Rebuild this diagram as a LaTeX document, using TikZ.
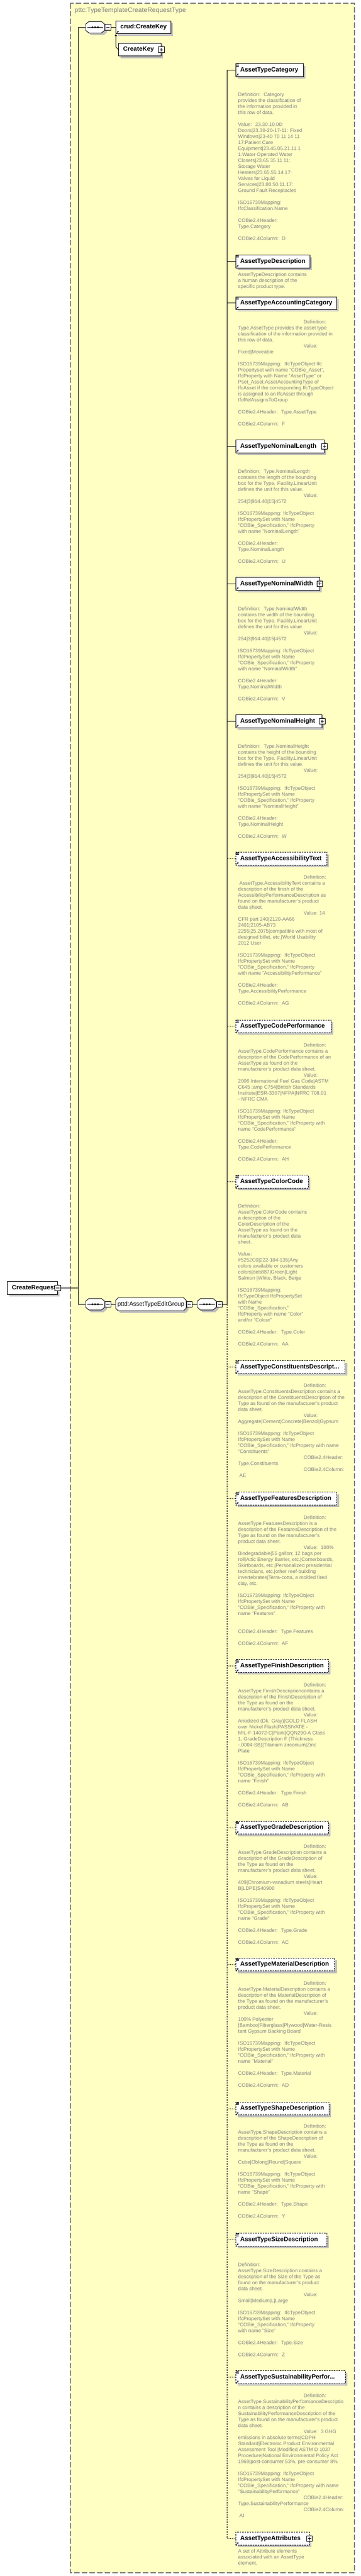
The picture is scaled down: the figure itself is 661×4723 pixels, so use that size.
\documentclass[tikz,border=0pt]{standalone}
\usepackage{fontspec}
\setmainfont{Liberation Sans}
\usetikzlibrary{shadows,arrows.meta}
\definecolor{bgyellow}{RGB}{255,255,196}
\definecolor{bordergray}{RGB}{128,128,128}
\definecolor{txtgray}{RGB}{128,128,128}
\definecolor{shadowgray}{RGB}{192,192,192}
\newcount\tcnt
\newcommand\tstart[1]{\xdef\tyv{#1}}
\newcommand\tadv{\pgfmathsetmacro\tmpy{\tyv+11}\xdef\tyv{\tmpy}}
\newcommand\tline[1]{\global\advance\tcnt by 1\relax\node[gtext] (t\the\tcnt) at (436.5,\tyv) {#1};\tadv}
\newcommand\ttab[1]{\global\advance\tcnt by 1\relax\node[gtext] (t\the\tcnt) at (556.7,\tyv) {#1};\tadv}
\newcommand\tskip{\tadv}
\newcommand\elem[6]{\pgfmathsetmacro\elw{#5-#3}\node[elbox,#6,minimum width=\elw pt,text width=\elw pt] (#1) at (#3,#4) {\mbox{\hspace*{8.5pt}#2}};}
\newcommand\docicon[1]{\draw[line width=0.7pt] ([xshift=1.6pt,yshift=-1.3pt]#1.north west) -- ++(5,0) ([xshift=1.6pt,yshift=-3pt]#1.north west) -- ++(5,0) ([xshift=1.6pt,yshift=-4.7pt]#1.north west) -- ++(5,0);}
\newcommand\reficon[1]{\draw[line width=0.8pt,-{Triangle[length=2.4pt,width=2.8pt]}] ([xshift=1.7pt,yshift=1.5pt]#1.south west) -- ++(4,-4);}
\newcommand\plusicon[1]{\node[pmbox] (#1p) at (#1.east) {};\draw[line width=0.9pt] ([xshift=-3pt]#1p.center) -- ([xshift=3pt]#1p.center) ([yshift=-3pt]#1p.center) -- ([yshift=3pt]#1p.center);}
\newcommand\minusicon[1]{\draw[line width=0.9pt] ([xshift=-3pt]#1.center) -- ([xshift=3pt]#1.center);}
\newcommand\seqc[3]{%
 \node[comp] (#1) at (#2+17.5,#3) {};
 \fill[shadowgray] (#2+10,#3-6.5) -- (#2+33,#3-6.5) -- (#2+39,#3-1.5) -- (#2+39,#3+9.5) -- (#2+33,#3+14.5) -- (#2+10,#3+14.5) -- (#2+4,#3+9.5) -- (#2+4,#3-1.5) -- cycle;
 \draw[fill=white,line width=0.9pt] (#2+6,#3-10.5) -- (#2+29,#3-10.5) -- (#2+35,#3-5.5) -- (#2+35,#3+5.5) -- (#2+29,#3+10.5) -- (#2+6,#3+10.5) -- (#2,#3+5.5) -- (#2,#3-5.5) -- cycle;
 \draw[line width=0.9pt] (#2+3,#3) -- (#2+32,#3);
 \fill (#2+11,#3-1.4) rectangle ++(2.8,2.8) (#2+16.1,#3-1.4) rectangle ++(2.8,2.8) (#2+21.2,#3-1.4) rectangle ++(2.8,2.8);
 \node[pmbox,anchor=west] (#1m) at (#1.east) {};
 \minusicon{#1m}}
\begin{document}
\begin{tikzpicture}[x=1pt,y=-1pt,
 elbox/.style={draw=black, line width=0.9pt, fill=white, inner xsep=0pt, inner ysep=0pt, minimum height=23.5pt, align=left, font=\fontsize{11.4}{13}\selectfont\bfseries, anchor=west, drop shadow={shadow xshift=4pt, shadow yshift=-4pt, fill=shadowgray, opacity=1}},
 optel/.style={dash pattern=on 2.5pt off 2pt},
 conn/.style={draw=black, line width=0.9pt},
 optconn/.style={draw=black, line width=0.9pt, dash pattern=on 2.5pt off 2pt},
 gtext/.style={anchor=west, inner sep=0pt, text height=6.6pt, text depth=1.9pt, font=\fontsize{9.2}{11}\selectfont, text=txtgray},
 pmbox/.style={draw=black, fill=white, line width=0.9pt, minimum size=10.5pt, inner sep=0pt},
 comp/.style={inner sep=0pt, minimum width=35pt, minimum height=21pt}]
\useasboundingbox (0,0) rectangle (661,4723);
\fill[white] (0,0) rectangle (661,4723);
\draw[bordergray, line width=1.2pt, dash pattern=on 10pt off 4pt, fill=bgyellow] (129,6) rectangle (650,4717);
\node[anchor=west, inner sep=0pt, font=\fontsize{12}{14}\selectfont, text=txtgray] (title) at (136.7,19.3) {pttc:TypeTemplateCreateRequestType};

% root element
\elem{root}{CreateRequest}{13}{2361.5}{105}{}
\node[pmbox] (rootm) at (root.east) {};
\minusicon{rootm}

% main bracket
\coordinate (vtop) at (143,50);
\coordinate (vbot) at (143,2391.3);
\coordinate (vroot) at (143,2361.5);
\draw[conn] (vtop) -- (vbot);
\draw[conn] (rootm.east) -- (vroot);

% top sequence
\seqc{s1}{157}{50}
\draw[conn] (vtop) -- (s1.west);
\elem{ck}{crud:CreateKey}{212}{50}{313}{}
\reficon{ck}
\draw[conn] (s1m.east) -- (ck.west);
\elem{ckt}{CreateKey}{217}{91}{295}{}
\plusicon{ckt}
\coordinate (ckbend) at (212.5,86);
\draw[conn,-{Triangle[length=4pt,width=4pt]}] (ckt.west) -- (ckbend) -- (ckbend |- ck.south);

% group row
\seqc{s2}{157}{2391.3}
\draw[conn] (vbot) -- (s2.west);
\fill[shadowgray] (221,2383.2) -- (340.5,2383.2) -- (345.5,2388.2) -- (345.5,2402.4) -- (340.5,2407.4) -- (221,2407.4) -- (216,2402.4) -- (216,2388.2) -- cycle;
\draw[fill=white,line width=0.9pt] (217,2379.2) -- (336.5,2379.2) -- (341.5,2384.2) -- (341.5,2398.4) -- (336.5,2403.4) -- (217,2403.4) -- (212,2398.4) -- (212,2384.2) -- cycle;
\node[inner sep=0pt, minimum width=129.5pt, minimum height=24.2pt, font=\fontsize{11}{13}\selectfont] (grp) at (276.75,2391.3) {pttd:AssetTypeEditGroup};
\node[pmbox,anchor=west] (grpm) at (grp.east) {};
\minusicon{grpm}
\draw[conn] (s2m.east) -- (grp.west);
\seqc{s3}{361.7}{2391.3}
\draw[conn] (grpm.east) -- (s3.west);
\coordinate (vg) at (416.5,2391.3);
\coordinate (vt) at (416.5,128.5);
\coordinate (vb) at (416.5,4654.5);
\draw[conn] (s3m.east) -- (vg);
\draw[conn] (vt) -- (vg);
\draw[optconn] (vg) -- (vb);

% elements
\elem{cat}{AssetTypeCategory}{431.7}{128.5}{556}{}
\elem{desc}{AssetTypeDescription}{431.7}{479.3}{568}{}
\elem{acc}{AssetTypeAccountingCategory}{431.7}{555.7}{617}{}
\elem{nlen}{AssetTypeNominalLength}{431.7}{818.3}{594}{}
\elem{nwid}{AssetTypeNominalWidth}{431.7}{1070.3}{585.7}{}
\elem{nhei}{AssetTypeNominalHeight}{431.7}{1322.5}{590}{}
\elem{acct}{AssetTypeAccessibilityText}{431.7}{1574.3}{599}{optel}
\elem{code}{AssetTypeCodePerformance}{431.7}{1881.7}{607}{optel}
\elem{color}{AssetTypeColorCode}{431.7}{2166.6}{565}{optel}
\elem{const}{AssetTypeConstituentsDescript...}{431.7}{2506.5}{632.4}{optel}
\elem{feat}{AssetTypeFeaturesDescription}{431.7}{2747.4}{617.3}{optel}
\elem{fin}{AssetTypeFinishDescription}{431.7}{3054.5}{601.7}{optel}
\elem{grade}{AssetTypeGradeDescription}{431.7}{3351}{601.7}{optel}
\elem{mat}{AssetTypeMaterialDescription}{431.7}{3601.8}{613.3}{optel}
\elem{shape}{AssetTypeShapeDescription}{431.7}{3866}{602.7}{optel}
\elem{size}{AssetTypeSizeDescription}{431.7}{4106.6}{599}{optel}
\elem{sust}{AssetTypeSustainabilityPerfor...}{431.7}{4358.4}{632.7}{optel}
\elem{attr}{AssetTypeAttributes}{431.7}{4654.5}{566.7}{optel}
\foreach \n in {cat,desc,acc,nlen,nwid,nhei}{\draw[conn] (\n.west -| vg) -- (\n.west);}
\foreach \n in {acct,code,color,const,feat,fin,grade,mat,shape,size,sust,attr}{\draw[optconn] (\n.west -| vg) -- (\n.west);}
\foreach \n in {cat,desc,acc,acct,code,color,const,feat,fin,grade,mat,shape,size,sust}{\docicon{\n}}
\foreach \n in {cat,desc,acc,nlen,nwid,nhei,acct,code,color,const,feat,fin,grade,mat,shape,size,sust,attr}{\reficon{\n}}
\plusicon{nlen}
\plusicon{nwid}
\plusicon{nhei}
\plusicon{attr}

% ---- texts
\tstart{174.3}
\tline{Definition:~ Category}
\tline{provides the classification of}
\tline{the information provided in}
\tline{this row of data.}
\tskip
\tline{Value:~ 23.30.10.00:}
\tline{Doors|23.30-20-17-11: Fixed}
\tline{Windows|23-40 70 11 14 11}
\tline{17:Patient Care}
\tline{Equipment|23.45.05.21.11.1}
\tline{1:Water Operated Water}
\tline{Closets|23.65 35 11 11:}
\tline{Storage Water}
\tline{Heaters|23.65.55.14.17:}
\tline{Valves for Liquid}
\tline{Services|23.80.50.11.17:}
\tline{Ground Fault Receptacles}
\tskip
\tline{ISO16739Mapping:}
\tline{IfcClassification.Name}
\tskip
\tline{COBie2.4Header:}
\tline{Type.Category}
\tskip
\tline{COBie2.4Column:~ D}

\tstart{503.7}
\tline{AssetTypeDescription contains}
\tline{a human description of the}
\tline{specific product type.}

\tstart{591}
\ttab{Definition:}
\tline{Type.AssetType provides the asset type}
\tline{classification of the information provided in}
\tline{this row of data.}
\ttab{Value:}
\tline{Fixed|Moveable}
\tskip
\tline{ISO16739Mapping:~ IfcTypeObject Ifc}
\tline{Propertyset with name "COBie\_Asset",}
\tline{IfcProperty with Name "AssetType" or}
\tline{Pset\_Asset.AssetAccountingType of}
\tline{IfcAsset if the corresponding IfcTypeObject}
\tline{is assigned to an IfcAsset through}
\tline{IfcRelAssignsToGroup}
\tskip
\tline{COBie2.4Header:~ Type.AssetType}
\tskip
\tline{COBie2.4Column:~ F}

\tstart{865}
\tline{Definition:~ Type.NominalLength}
\tline{contains the length of the bounding}
\tline{box for the Type. Facility.LinearUnit}
\tline{defines the unit for this value.}
\ttab{Value:}
\tline{254|3|914.40|15|4572}
\tskip
\tline{ISO16739Mapping: IfcTypeObject}
\tline{IfcPropertySet with Name}
\tline{"COBie\_Specification," IfcProperty}
\tline{with name "NominalLength"}
\tskip
\tline{COBie2.4Header:}
\tline{Type.NominalLength}
\tskip
\tline{COBie2.4Column:~ U}

\tstart{1116.7}
\tline{Definition:~ Type.NominalWidth}
\tline{contains the width of the bounding}
\tline{box for the Type. Facility.LinearUnit}
\tline{defines the unit for this value.}
\ttab{Value:}
\tline{254|3|914.40|15|4572}
\tskip
\tline{ISO16739Mapping: IfcTypeObject}
\tline{IfcPropertySet with Name}
\tline{"COBie\_Specification," IfcProperty}
\tline{with name "NominalWidth"}
\tskip
\tline{COBie2.4Header:}
\tline{Type.NominalWidth}
\tskip
\tline{COBie2.4Column:~ V}

\tstart{1368.7}
\tline{Definition:~ Type.NominalHeight}
\tline{contains the height of the bounding}
\tline{box for the Type. Facility.LinearUnit}
\tline{defines the unit for this value.}
\ttab{Value:}
\tline{254|3|914.40|15|4572}
\tskip
\tline{ISO16739Mapping:~ IfcTypeObject}
\tline{IfcPropertySet with Name}
\tline{"COBie\_Specification," IfcProperty}
\tline{with name "NominalHeight"}
\tskip
\tline{COBie2.4Header:}
\tline{Type.NominalHeight}
\tskip
\tline{COBie2.4Column:~ W}

\tstart{1609.3}
\ttab{Definition:}
\tline{\hspace*{2.5pt}AssetType.AccessibilityText contains a}
\tline{description of the finish of the}
\tline{AccessibilityPerformanceDescription as}
\tline{found on the manufacturer's product}
\tline{data sheet.}
\ttab{Value: 14}
\tline{CFR part 240|2120-AA66}
\tline{2401|2105-AB73}
\tline{2255|25.2075|compatible with most of}
\tline{designed billet, etc.|World Usability}
\tline{2012 User}
\tskip
\tline{ISO16739Mapping:~ IfcTypeObject}
\tline{IfcPropertySet with Name}
\tline{"COBie\_Specification," IfcProperty}
\tline{with name "AccessibilityPerformance"}
\tskip
\tline{COBie2.4Header:}
\tline{Type.AccessibilityPerformance}
\tskip
\tline{COBie2.4Column:~ AG}

\tstart{1916.7}
\ttab{Definition:}
\tline{AssetType.CodePerformance contains a}
\tline{description of the CodePerformance of an}
\tline{AssetType as found on the}
\tline{manufacturer's product data sheet.}
\ttab{Value:}
\tline{2006 International Fuel Gas Code|ASTM}
\tline{C645 ;amp C754|British Standards}
\tline{Institute|ESR-3307|NFPA|NFRC 708.01}
\tline{- NFRC CMA}
\tskip
\tline{ISO16739Mapping: IfcTypeObject}
\tline{IfcPropertySet with Name}
\tline{"COBie\_Specification," IfcProperty with}
\tline{name "CodePerformance"}
\tskip
\tline{COBie2.4Header:}
\tline{Type.CodePerformance}
\tskip
\tline{COBie2.4Column:~ AH}

\tstart{2212.2}
\tline{Definition:}
\tline{AssetType.ColorCode contains}
\tline{a description of the}
\tline{ColorDescription of the}
\tline{AssetType as found on the}
\tline{manufacturer's product data}
\tline{sheet.}
\tskip
\tline{Value:}
\tline{\#5252C0|222-184-135|Any}
\tline{colors available or customers}
\tline{colors|deb887|Green|Light}
\tline{Salmon |White, Black, Beige}
\tskip
\tline{ISO16739Mapping:}
\tline{IfcTypeObject IfcPropertySet}
\tline{with Name}
\tline{"COBie\_Specification,"}
\tline{IfcProperty with name "Color"}
\tline{and/or "Colour"}
\tskip
\tline{COBie2.4Header:~ Type.Color}
\tskip
\tline{COBie2.4Column:~ AA}

\tstart{2541.4}
\ttab{Definition:}
\tline{AssetType.ConstituentsDescription contains a}
\tline{description of the ConstituentsDescription of the}
\tline{Type as found on the manufacturer's product}
\tline{data sheet.}
\ttab{Value:}
\tline{Aggregate|Cement|Concrete|Benzol|Gypsum}
\tskip
\tline{ISO16739Mapping: IfcTypeObject}
\tline{IfcPropertySet with Name}
\tline{"COBie\_Specification," IfcProperty with name}
\tline{"Constituents"}
\ttab{COBie2.4Header:}
\tline{Type.Constituents}
\ttab{COBie2.4Column:}
\tline{\hspace*{2.5pt}AE}

\tstart{2782.9}
\ttab{Definition:}
\tline{AssetType.FeaturesDescription is a}
\tline{description of the FeaturesDescription of the}
\tline{Type as found on the manufacturer's}
\tline{product data sheet.}
\ttab{Value:~ 100\%}
\tline{Biodegradable|55 gallon; 12 bags per}
\tline{roll|Attic Energy Barrier, etc.|Cornerboards,}
\tline{Skirtboards, etc.|Personalized presidential}
\tline{technicians, etc.|other reef-building}
\tline{invertebrates|Terra-cotta, a molded fired}
\tline{clay, etc.}
\tskip
\tline{ISO16739Mapping: IfcTypeObject}
\tline{IfcPropertySet with Name}
\tline{"COBie\_Specification," IfcProperty with}
\tline{name "Features"}
\tskip
\tskip
\tline{COBie2.4Header:~ Type.Features}
\tskip
\tline{COBie2.4Column:~ AF}

\tstart{3089.9}
\ttab{Definition:}
\tline{AssetType.FinishDescriptioncontains a}
\tline{description of the FinishDescription of}
\tline{the Type as found on the}
\tline{manufacturer's product data sheet.}
\ttab{Value:}
\tline{Anodized (Dk. Gray)|GOLD FLASH}
\tline{over Nickel Flash|PASSIVATE -}
\tline{MIL-F-14072-C|Paint|QQN290-A Class}
\tline{1, GradeDescription F (Thickness}
\tline{-.0004-SB)|Titanium zirconium|Zinc}
\tline{Plate}
\tskip
\tline{ISO16739Mapping: IfcTypeObject}
\tline{IfcPropertySet with Name}
\tline{"COBie\_Specification," IfcProperty with}
\tline{name "Finish"}
\tskip
\tline{COBie2.4Header:~ Type.Finish}
\tskip
\tline{COBie2.4Column:~ AB}

\tstart{3386}
\ttab{Definition:}
\tline{AssetType.GradeDescription contains a}
\tline{description of the GradeDescription of}
\tline{the Type as found on the}
\tline{manufacturer's product data sheet.}
\ttab{Value:}
\tline{409|Chromium-vanadium steels|Heart}
\tline{B|LDPE|S40900}
\tskip
\tline{ISO16739Mapping: IfcTypeObject}
\tline{IfcPropertySet with Name}
\tline{"COBie\_Specification," IfcProperty with}
\tline{name "Grade"}
\tskip
\tline{COBie2.4Header:~ Type.Grade}
\tskip
\tline{COBie2.4Column:~ AC}

\tstart{3637.2}
\ttab{Definition:}
\tline{AssetType.MaterialDescription contains a}
\tline{description of the MaterialDescription of}
\tline{the Type as found on the manufacturer's}
\tline{product data sheet.}
\ttab{Value:}
\tline{100\% Polyester}
\tline{|Bamboo|Fiberglass|Plywood|Water-Resis}
\tline{tant Gypsum Backing Board}
\tskip
\tline{ISO16739Mapping:~ IfcTypeObject}
\tline{IfcPropertySet with Name}
\tline{"COBie\_Specification," IfcProperty with}
\tline{name "Material"}
\tskip
\tline{COBie2.4Header:~ Type.Material}
\tskip
\tline{COBie2.4Column:~ AD}

\tstart{3899.3}
\ttab{Definition:}
\tline{AssetType.ShapeDescription contains a}
\tline{description of the ShapeDescription of}
\tline{the Type as found on the}
\tline{manufacturer's product data sheet.}
\ttab{Value:}
\tline{Cube|Oblong|Round|Square}
\tskip
\tline{ISO16739Mapping:~ IfcTypeObject}
\tline{IfcPropertySet with Name}
\tline{"COBie\_Specification," IfcProperty with}
\tline{name "Shape"}
\tskip
\tline{COBie2.4Header:~ Type.Shape}
\tskip
\tline{COBie2.4Column:~ Y}

\tstart{4153}
\tline{Definition:}
\tline{AssetType.SizeDescription contains a}
\tline{description of the Size of the Type as}
\tline{found on the manufacturer's product}
\tline{data sheet.}
\ttab{Value:}
\tline{Small|Medium|L|Large}
\tskip
\tline{ISO16739Mapping:~ IfcTypeObject}
\tline{IfcPropertySet with Name}
\tline{"COBie\_Specification," IfcProperty}
\tline{with name "Size"}
\tskip
\tline{COBie2.4Header:~ Type.Size}
\tskip
\tline{COBie2.4Column:~ Z}

\tstart{4393.3}
\ttab{Definition:}
\tline{AssetType.SustainabilityPerformanceDescriptio}
\tline{n contains a description of the}
\tline{SustainabilityPerformanceDescription of the}
\tline{Type as found on the manufacturer's product}
\tline{data sheet.}
\ttab{Value:~ 3 GHG}
\tline{emissions in absolute terms|CDPH}
\tline{Standard|Electronic Product Environmental}
\tline{Assessment Tool |Modified ASTM D 1037}
\tline{Procedure|National Environmental Policy Act}
\tline{1969|post-consumer 53\%, pre-consumer 8\%}
\tskip
\tline{ISO16739Mapping: IfcTypeObject}
\tline{IfcPropertySet with Name}
\tline{"COBie\_Specification," IfcProperty with name}
\tline{"SustainabilityPerformance"}
\ttab{COBie2.4Header:}
\tline{Type.SustainabilityPerformance}
\ttab{COBie2.4Column:}
\tline{\hspace*{2.5pt}AI}

\tstart{4678.3}
\tline{A set of Attribute elements}
\tline{associated with an AssetType}
\tline{element.}
\end{tikzpicture}
\end{document}
